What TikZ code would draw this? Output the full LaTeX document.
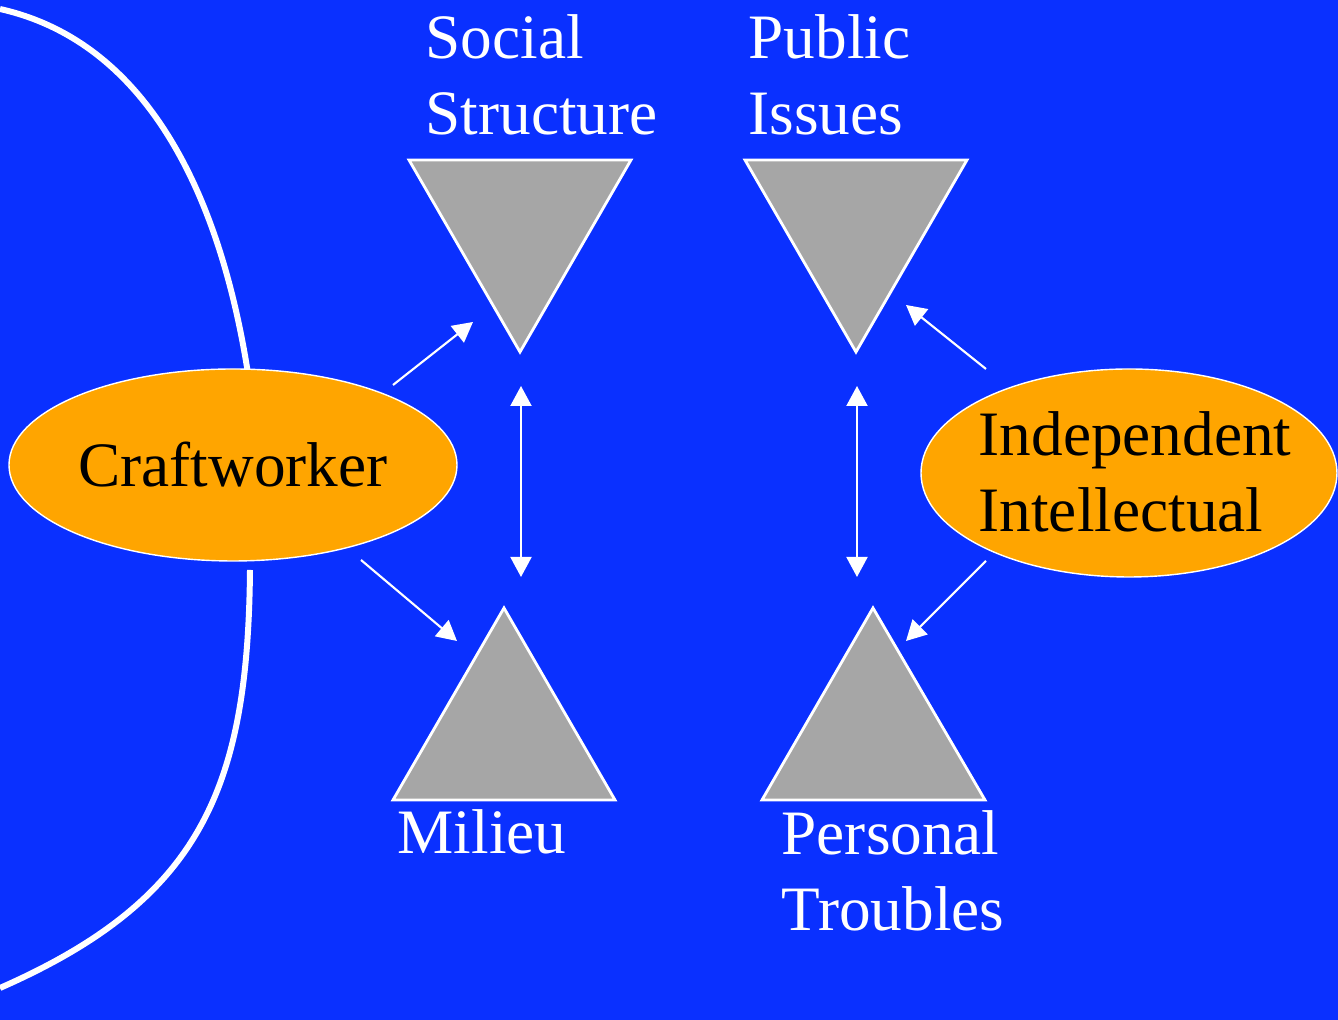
\documentclass[tikz,border=0pt]{standalone}
\usepackage{fontspec}
\setmainfont{Liberation Serif}
\usetikzlibrary{shapes.geometric,arrows.meta}

\definecolor{slideblue}{RGB}{10,48,255}
\definecolor{ovalorange}{RGB}{255,165,0}
\definecolor{trigray}{RGB}{166,166,166}

\tikzset{
  oval/.style={ellipse, draw=white, line width=0.4pt, fill=ovalorange, inner sep=0pt, outer sep=0pt,
    align=left, font=\fontsize{18}{21.9}\selectfont},
  ovaltext/.style={inner sep=0pt, anchor=base west, align=left, font=\fontsize{18}{21.9}\selectfont},
  tri/.style={draw=white, line width=0.8pt, fill=trigray},
  lbl/.style={text=white, inner sep=0pt, anchor=base west, align=left, font=\fontsize{18}{21.9}\selectfont},
  link/.style={white, line width=0.6pt, -{Triangle[length=0.2cm,width=0.21cm]}},
  bilink/.style={white, line width=0.6pt, {Triangle[length=0.2cm,width=0.21cm]}-{Triangle[length=0.2cm,width=0.21cm]}},
  rim/.style={white, line width=1.7pt}
}

\begin{document}
\begin{tikzpicture}
    % background
    \fill[slideblue] (0,0) rectangle (13.38,-10.2);
    \useasboundingbox (0,0) rectangle (13.38,-10.2);

    % white boundary
    \draw[rim] (0,-0.09) .. controls (1.6,-0.45) and (2.25,-2.2) .. (2.49,-3.8);
    \draw[rim] (2.5,-5.70) .. controls (2.48,-7.9) and (2.0,-9.0) .. (0,-9.88);

    % ovals
    \node[oval, minimum width=4.48cm, minimum height=1.92cm] (craft) at (2.33,-4.65) {Craftworker};
    \node[oval, minimum width=4.16cm, minimum height=2.08cm] (indep) at (11.29,-4.73) {};
    \node[ovaltext] (indep-text) at (9.78,-5.32) {Independent\\Intellectual};

    % triangles
    \draw[tri] (4.09,-1.60) -- (6.31,-1.60) -- (5.20,-3.52) -- cycle;
    \draw[tri] (7.45,-1.60) -- (9.67,-1.60) -- (8.56,-3.52) -- cycle;
    \draw[tri] (5.04,-6.08) -- (6.15,-8.00) -- (3.93,-8.00) -- cycle;
    \draw[tri] (8.73,-6.08) -- (9.85,-8.00) -- (7.62,-8.00) -- cycle;

    % arrow ends
    \coordinate (craft-up) at (3.93,-3.85);
    \coordinate (social-in) at (4.73,-3.22);
    \coordinate (craft-down) at (3.61,-5.60);
    \coordinate (milieu-in) at (4.57,-6.41);
    \coordinate (left-top) at (5.21,-3.86);
    \coordinate (left-bot) at (5.21,-5.77);
    \coordinate (right-top) at (8.57,-3.86);
    \coordinate (right-bot) at (8.57,-5.77);
    \coordinate (indep-up) at (9.86,-3.69);
    \coordinate (public-in) at (9.06,-3.05);
    \coordinate (indep-down) at (9.86,-5.61);
    \coordinate (troubles-in) at (9.06,-6.41);

    % arrows
    \draw[link] (craft-up) -- (social-in);
    \draw[link] (craft-down) -- (milieu-in);
    \draw[bilink] (left-top) -- (left-bot);
    \draw[bilink] (right-top) -- (right-bot);
    \draw[link] (indep-up) -- (public-in);
    \draw[link] (indep-down) -- (troubles-in);

    % labels (anchored on last baseline)
    \node[lbl] (social) at (4.25,-1.35) {Social\\Structure};
    \node[lbl] (public) at (7.48,-1.35) {Public\\Issues};
    \node[lbl] (milieu) at (3.97,-8.54) {Milieu};
    \node[lbl] (troubles) at (7.81,-9.31) {Personal\\Troubles};
\end{tikzpicture}
\end{document}
